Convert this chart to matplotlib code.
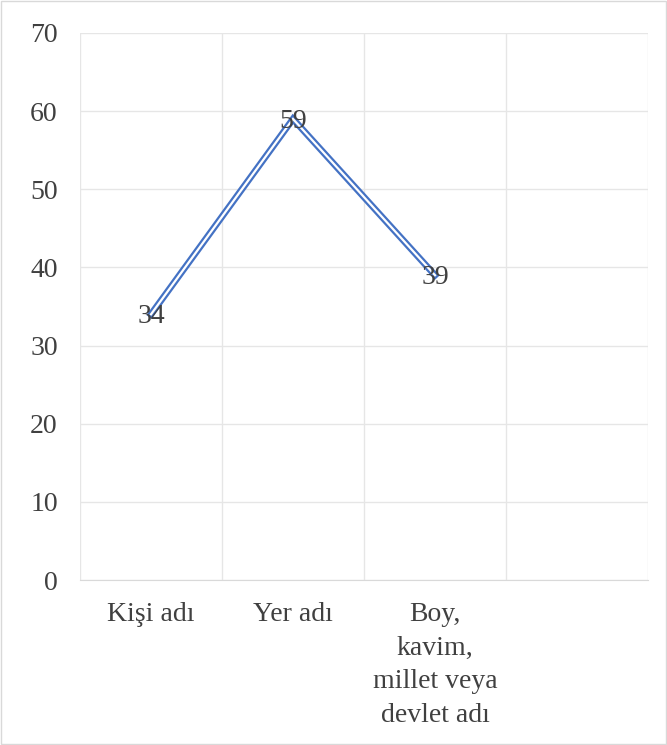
import numpy as np
import matplotlib.pyplot as plt

categories = ['Kişi adı', 'Yer adı', 'Boy,\nkavim,\nmillet veya\ndevlet adı', '']
values = [34, 59, 39]
y_ticks = [0, 10, 20, 30, 40, 50, 60, 70]

plt.rcParams['font.family'] = ['Liberation Serif', 'DejaVu Serif']

fig = plt.figure(figsize=(6.67, 7.45), dpi=100)
ax = fig.add_axes([80 / 667, 165 / 745, 568 / 667, 547 / 745])

x = np.arange(len(values))
# double line: thick blue with thin white core
ax.plot(x, values, color='#4472C4', lw=4.8, solid_joinstyle='miter', zorder=3)
ax.plot(x, values, color='white', lw=1.6, solid_joinstyle='miter', zorder=4)

for xi, v in zip(x, values):
    ax.text(xi, v - 0.3, str(v), ha='center', va='center', fontsize=20,
            color='#404040', zorder=5)

ax.set_xlim(-0.5, len(categories) - 0.5)
ax.set_ylim(0, 70)
ax.set_yticks(y_ticks)
ax.set_xticks(np.arange(len(categories)))
ax.set_xticklabels(categories, linespacing=1.45)
ax.set_xticks(np.arange(len(categories) + 1) - 0.5, minor=True)

ax.grid(axis='y', which='major', color='#e6e6e6', lw=1)
ax.grid(axis='x', which='minor', color='#e6e6e6', lw=1)
ax.set_axisbelow(True)

ax.tick_params(axis='both', which='both', length=0, labelsize=20, labelcolor='#404040')
ax.tick_params(axis='y', pad=16)
ax.tick_params(axis='x', pad=16)

for s in ['top', 'right', 'left']:
    ax.spines[s].set_visible(False)
ax.spines['bottom'].set_color('#d9d9d9')

fig.patches.append(plt.Rectangle((0.001, 0.001), 0.997, 0.997, transform=fig.transFigure,
                                 fill=False, edgecolor='#d9d9d9', lw=1))

fig.savefig('out.png', dpi=100)
